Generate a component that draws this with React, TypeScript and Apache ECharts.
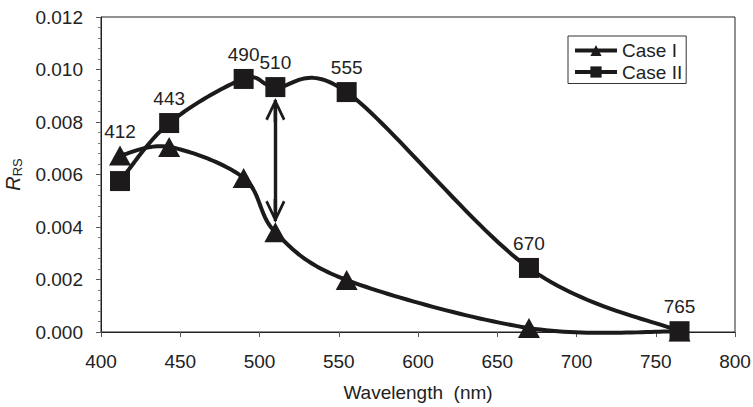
import React, { useEffect, useRef } from "react";
import * as echarts from "echarts";

const wavelengths = [412, 443, 490, 510, 555, 670, 765];
const caseI = [0.00672, 0.00705, 0.00587, 0.0038, 0.00198, 0.00015, 0.00002];
const caseII = [0.00575, 0.00796, 0.00964, 0.00933, 0.00914, 0.00244, 0.00003];
const pointLabels = ["412", "443", "490", "510", "555", "670", "765"];
// which series carries the label of each point (the upper one)
const labelOnCaseI = [true, false, false, false, false, false, false];
// centres of the double arrow's heads
const arrowFrom = [510, 0.00846];
const arrowTo = [510, 0.00461];
const yTicks = { min: 0, max: 0.012, interval: 0.002 };
const xTicks = { min: 400, max: 800, interval: 50 };

const FONT = "Liberation Sans, Arial, sans-serif";
const INK = "#1c1a1b";

const arrowHead =
  "path://M10,0 L20,21 L17.6,22.6 L10,6.5 L2.4,22.6 L0,21 Z M8.3,2 L11.7,2 L11.7,24 L8.3,24 Z";

// Excel-like smoothed curve (Catmull-Rom style Bezier) through pixel points from the axes
function smoothCurve(values: number[]) {
  return (params: any, api: any) => {
    const pts = wavelengths.map((w, i) => api.coord([w, values[i]]));
    const out: number[][] = [];
    const n = pts.length;
    for (let i = 0; i < n - 1; i++) {
      const p0 = pts[Math.max(i - 1, 0)];
      const p1 = pts[i];
      const p2 = pts[i + 1];
      const p3 = pts[Math.min(i + 2, n - 1)];
      const c1 = [p1[0] + (p2[0] - p0[0]) / 6, p1[1] + (p2[1] - p0[1]) / 6];
      const c2 = [p2[0] - (p3[0] - p1[0]) / 6, p2[1] - (p3[1] - p1[1]) / 6];
      const steps = 30;
      for (let s = 0; s <= steps; s++) {
        if (i > 0 && s === 0) continue;
        const t = s / steps;
        const u = 1 - t;
        const x = u * u * u * p1[0] + 3 * u * u * t * c1[0] + 3 * u * t * t * c2[0] + t * t * t * p2[0];
        const y = u * u * u * p1[1] + 3 * u * u * t * c1[1] + 3 * u * t * t * c2[1] + t * t * t * p2[1];
        out.push([x, y]);
      }
    }
    return {
      type: "polyline",
      shape: { points: out },
      style: { fill: "none", stroke: INK, lineWidth: 4, lineJoin: "round", lineCap: "round" },
    };
  };
}

export default function App() {
  const ref = useRef<HTMLDivElement>(null);
  useEffect(() => {
    if (!ref.current) return;
    const chart = echarts.init(ref.current, undefined, { renderer: "svg" });
    const mk = (vals: number[]) => wavelengths.map((w, i) => [w, vals[i]]);
    const labelCfg = (useCaseI: boolean) => ({
      show: true,
      position: "top",
      distance: 5,
      fontSize: 19,
      color: "#222",
      fontFamily: FONT,
      formatter: (p: any) =>
        labelOnCaseI[p.dataIndex] === useCaseI ? pointLabels[p.dataIndex] : "",
    });
    chart.setOption({
      animation: false,
      textStyle: { fontFamily: FONT },
      grid: {
        left: 101,
        right: 18,
        top: 17,
        bottom: 75,
        containLabel: false,
        outerBoundsMode: "none",
        show: true,
        borderColor: "#222",
        borderWidth: 1,
      },
      legend: {
        left: 568,
        top: 36,
        orient: "vertical",
        itemWidth: 42,
        itemHeight: 14,
        itemGap: 2.5,
        padding: [5, 4, 2, 5],
        borderColor: "#333",
        borderWidth: 1,
        lineStyle: { opacity: 1, width: 4, color: INK },
        textStyle: { fontSize: 19, color: "#222", fontFamily: FONT },
        data: ["Case I", "Case II"],
      },
      xAxis: {
        type: "value",
        min: xTicks.min,
        max: xTicks.max,
        interval: xTicks.interval,
        name: "Wavelength\u00a0\u00a0(nm)",
        nameLocation: "middle",
        nameGap: 51,
        nameTextStyle: { fontSize: 19, color: "#222", fontFamily: FONT },
        axisLine: { show: true, lineStyle: { color: "#222", width: 1 } },
        axisTick: { show: true, length: 5, lineStyle: { color: "#555" } },
        axisLabel: { fontSize: 19, color: "#222", margin: 20, fontFamily: FONT },
        splitLine: { show: false },
      },
      yAxis: {
        type: "value",
        min: yTicks.min,
        max: yTicks.max,
        interval: yTicks.interval,
        name: "{a|R}{b|RS}",
        nameLocation: "middle",
        nameGap: 77,
        nameRotate: 90,
        nameTextStyle: {
          fontFamily: FONT,
          rich: {
            a: { fontSize: 20, fontStyle: "italic", color: "#222", fontFamily: FONT, lineHeight: 22 },
            b: { fontSize: 13, color: "#222", fontFamily: FONT, verticalAlign: "bottom", lineHeight: 14 },
          },
        },
        axisLine: { show: true, lineStyle: { color: "#222", width: 1 } },
        axisTick: { show: true, length: 5, lineStyle: { color: "#555" } },
        minorTick: { show: true, splitNumber: 5, length: 3, lineStyle: { color: "#777" } },
        axisLabel: {
          fontSize: 19,
          color: "#222",
          margin: 18,
          fontFamily: FONT,
          formatter: (v: number) => v.toFixed(3),
        },
        splitLine: { show: false },
      },
      series: [
        {
          name: "Case I curve",
          type: "custom",
          data: [[wavelengths[0], caseI[0]]],
          renderItem: smoothCurve(caseI),
          silent: true,
          clip: false,
          z: 1,
        },
        {
          name: "Case II curve",
          type: "custom",
          data: [[wavelengths[0], caseII[0]]],
          renderItem: smoothCurve(caseII),
          silent: true,
          clip: false,
          z: 2,
        },
        {
          name: "Case I",
          type: "line",
          data: mk(caseI),
          symbol: "triangle",
          symbolSize: [22, 20],
          lineStyle: { color: INK, width: 4, opacity: 0 },
          itemStyle: { color: INK },
          label: labelCfg(true),
          z: 3,
        },
        {
          name: "Case II",
          type: "line",
          data: mk(caseII),
          symbol: "rect",
          symbolSize: [20, 20],
          lineStyle: { color: INK, width: 4, opacity: 0 },
          itemStyle: { color: INK },
          label: labelCfg(false),
          markLine: {
            silent: true,
            symbol: [arrowHead, arrowHead],
            symbolSize: [20, 24],
            label: { show: false },
            lineStyle: { color: INK, width: 3.4, type: "solid", opacity: 1 },
            data: [[{ coord: arrowFrom }, { coord: arrowTo }]],
          },
          z: 4,
        },
      ],
    });
    return () => chart.dispose();
  }, []);
  return (
    <div
      ref={ref}
      style={{ position: "absolute", left: 0, top: 0, width: 753, height: 407 }}
    />
  );
}
